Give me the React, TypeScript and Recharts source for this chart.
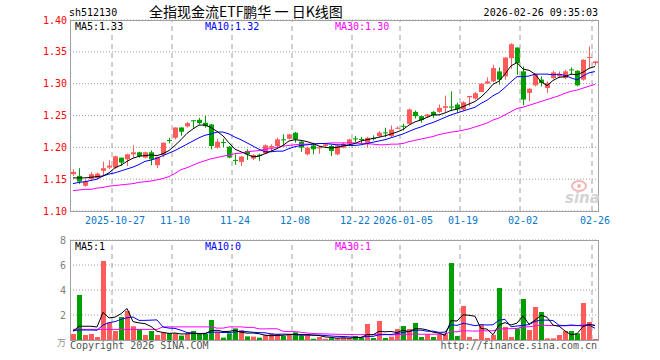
import React from "react";
import {
  ComposedChart,
  Bar,
  Line,
  XAxis,
  YAxis,
  CartesianGrid,
  ReferenceLine,
} from "recharts";

const MONO = '"DejaVu Sans Mono", monospace';
const RED = "#ff5b5b";
const GREEN = "#009f00";
const BLUE = "#0a78c8";
const GRID = "#a0a0a0";

const dates = [
  "10-16", "10-17", "10-20", "10-21", "10-22", "10-23", "10-24",
  "10-27", "10-28", "10-29", "10-30", "10-31",
  "11-03", "11-04", "11-05", "11-06", "11-07",
  "11-10", "11-11", "11-12", "11-13", "11-14",
  "11-17", "11-18", "11-19", "11-20", "11-21",
  "11-24", "11-25", "11-26", "11-27", "11-28",
  "12-01", "12-02", "12-03", "12-04", "12-05",
  "12-08", "12-09", "12-10", "12-11", "12-12",
  "12-15", "12-16", "12-17", "12-18", "12-19",
  "12-22", "12-23", "12-24", "12-25", "12-26",
  "12-29", "12-30", "12-31",
  "01-05", "01-06", "01-07", "01-08", "01-09",
  "01-12", "01-13", "01-14", "01-15", "01-16",
  "01-19", "01-20", "01-21", "01-22", "01-23",
  "01-26", "01-27", "01-28", "01-29", "01-30",
  "02-02", "02-03", "02-04", "02-05", "02-06",
  "02-09", "02-10", "02-11", "02-12", "02-13",
  "02-24", "02-25", "02-26",
];

const tickDates = ["10-27", "11-10", "11-24", "12-08", "12-22", "01-05", "01-19", "02-02", "02-26"];
const tickLabels = ["2025-10-27", "11-10", "11-24", "12-08", "12-22", "2026-01-05", "01-19", "02-02", "02-26"];
const priceTicks = [1.1, 1.15, 1.2, 1.25, 1.3, 1.35, 1.4];
const volTicks = [0, 2, 4, 6, 8];

const opens = [
  1.1578, 1.1552, 1.1396, 1.15, 1.1516, 1.163, 1.1682, 1.1682, 1.1838, 1.1812,
  1.189, 1.1922, 1.1838, 1.1922, 1.1719, 1.188, 1.2115, 1.215, 1.2312, 1.2328,
  1.2425, 1.2432, 1.2385, 1.2359, 1.1995, 1.2083, 1.201, 1.1802, 1.1771, 1.1943,
  1.1823, 1.1885, 1.1905, 1.1995, 1.2021, 1.2125, 1.2135, 1.2229, 1.2089, 1.189,
  1.203, 1.1984, 1.2021, 1.2021, 1.189, 1.1995, 1.2057, 1.214, 1.213, 1.2047,
  1.2145, 1.2177, 1.2235, 1.2177, 1.2297, 1.2338, 1.237, 1.2557, 1.249, 1.2484,
  1.2557, 1.2557, 1.262, 1.2641, 1.2672, 1.2594, 1.2786, 1.2766, 1.287, 1.3,
  1.3036, 1.3193, 1.3115, 1.3401, 1.3568, 1.3193, 1.2854, 1.2974, 1.3063, 1.2932,
  1.3089, 1.3115, 1.3089, 1.3224, 1.3203, 1.3063, 1.3405, 1.3323,
];
const highs = [
  1.1656, 1.1672, 1.15, 1.1609, 1.1604, 1.1776, 1.1797, 1.187, 1.1838, 1.19,
  1.2031, 1.1932, 1.1932, 1.1953, 1.185, 1.2073, 1.2151, 1.2312, 1.2312, 1.2396,
  1.2425, 1.2464, 1.2495, 1.237, 1.2135, 1.2135, 1.202, 1.189, 1.1865, 1.1969,
  1.189, 1.19, 1.2047, 1.2047, 1.215, 1.2203, 1.2213, 1.224, 1.211, 1.201,
  1.2073, 1.202, 1.2057, 1.2036, 1.2047, 1.2073, 1.2135, 1.218, 1.2165, 1.2166,
  1.2187, 1.2255, 1.2307, 1.2344, 1.2328, 1.237, 1.261, 1.2578, 1.25, 1.2526,
  1.2568, 1.2672, 1.2812, 1.288, 1.27, 1.2724, 1.2807, 1.2869, 1.301, 1.31,
  1.3297, 1.3255, 1.3411, 1.3635, 1.3568, 1.327, 1.293, 1.3156, 1.3115, 1.3036,
  1.3203, 1.3193, 1.3219, 1.3255, 1.3213, 1.3385, 1.3583, 1.3349,
];
const lows = [
  1.1552, 1.1422, 1.138, 1.1484, 1.15, 1.1552, 1.1656, 1.166, 1.1708, 1.1708,
  1.1838, 1.1838, 1.1828, 1.1719, 1.1672, 1.1849, 1.2063, 1.2125, 1.2182, 1.2312,
  1.2307, 1.236, 1.2308, 1.1969, 1.198, 1.2005, 1.1828, 1.1724, 1.1708, 1.1802,
  1.18, 1.1787, 1.1895, 1.1943, 1.2005, 1.2021, 1.2125, 1.2073, 1.1927, 1.1875,
  1.189, 1.19, 1.1995, 1.1865, 1.1875, 1.1985, 1.2036, 1.2083, 1.2063, 1.2,
  1.2109, 1.2161, 1.216, 1.2161, 1.2286, 1.2266, 1.236, 1.2453, 1.2385, 1.2464,
  1.2464, 1.2542, 1.2542, 1.2568, 1.2542, 1.2568, 1.2646, 1.275, 1.287, 1.2995,
  1.3026, 1.2984, 1.3063, 1.3234, 1.314, 1.2661, 1.2724, 1.2958, 1.2958, 1.2854,
  1.3073, 1.3089, 1.3073, 1.314, 1.2958, 1.3047, 1.3245, 1.3286,
];
const closes = [
  1.1615, 1.1463, 1.1463, 1.1578, 1.1588, 1.1672, 1.1713, 1.1859, 1.176, 1.189,
  1.1922, 1.1865, 1.1922, 1.1812, 1.1849, 1.2073, 1.211, 1.2312, 1.2245, 1.238,
  1.2422, 1.238, 1.2333, 1.2021, 1.2088, 1.2078, 1.1839, 1.1797, 1.1854, 1.189,
  1.188, 1.1865, 1.2031, 1.2021, 1.2125, 1.212, 1.2203, 1.2125, 1.1995, 1.1995,
  1.1969, 1.2005, 1.2047, 1.1943, 1.2031, 1.2057, 1.2125, 1.2135, 1.2125, 1.215,
  1.214, 1.223, 1.223, 1.228, 1.2307, 1.2333, 1.2594, 1.249, 1.2427, 1.2516,
  1.2505, 1.262, 1.2646, 1.2635, 1.2594, 1.2708, 1.2807, 1.2849, 1.3, 1.3036,
  1.3245, 1.3063, 1.3411, 1.362, 1.3323, 1.275, 1.292, 1.3151, 1.301, 1.301,
  1.3177, 1.3151, 1.3193, 1.3219, 1.2974, 1.3375, 1.342, 1.3349,
];

const ma5 = [
  1.152, 1.152, 1.152, 1.153, 1.154, 1.155, 1.16, 1.168, 1.172, 1.178,
  1.183, 1.186, 1.187, 1.188, 1.187, 1.19, 1.195, 1.203, 1.212, 1.222,
  1.229, 1.235, 1.235, 1.231, 1.225, 1.218, 1.207, 1.197, 1.193, 1.189,
  1.185, 1.186, 1.19, 1.194, 1.198, 1.203, 1.21, 1.212, 1.211, 1.209,
  1.206, 1.202, 1.2, 1.199, 1.2, 1.202, 1.204, 1.206, 1.21, 1.212,
  1.214, 1.216, 1.218, 1.221, 1.224, 1.228, 1.235, 1.24, 1.243, 1.247,
  1.251, 1.251, 1.254, 1.258, 1.26, 1.264, 1.268, 1.272, 1.279, 1.288,
  1.299, 1.304, 1.315, 1.328, 1.333, 1.323, 1.321, 1.315, 1.303, 1.297,
  1.305, 1.31, 1.311, 1.315, 1.314, 1.318, 1.324, 1.327,
];
const ma10 = [
  1.143, 1.145, 1.146, 1.148, 1.15, 1.155, 1.158, 1.16, 1.163, 1.166,
  1.169, 1.173, 1.178, 1.18, 1.183, 1.187, 1.191, 1.195, 1.2, 1.205,
  1.21, 1.215, 1.219, 1.221, 1.224, 1.224, 1.221, 1.216, 1.212, 1.207,
  1.202, 1.197, 1.193, 1.193, 1.194, 1.194, 1.198, 1.201, 1.203, 1.204,
  1.205, 1.206, 1.206, 1.205, 1.204, 1.204, 1.203, 1.203, 1.204, 1.206,
  1.208, 1.21, 1.212, 1.215, 1.218, 1.221, 1.225, 1.229, 1.232, 1.236,
  1.239, 1.243, 1.247, 1.251, 1.254, 1.257, 1.26, 1.263, 1.269, 1.274,
  1.281, 1.286, 1.294, 1.303, 1.311, 1.311, 1.312, 1.315, 1.315, 1.315,
  1.314, 1.315, 1.313, 1.309, 1.306, 1.312, 1.317, 1.319,
];
const ma30 = [
  1.132, 1.133, 1.134, 1.134, 1.136, 1.137, 1.139, 1.14, 1.141, 1.142,
  1.143, 1.145, 1.146, 1.147, 1.149, 1.151, 1.154, 1.159, 1.165, 1.168,
  1.172, 1.176, 1.179, 1.182, 1.184, 1.186, 1.188, 1.19, 1.191, 1.193,
  1.194, 1.195, 1.197, 1.198, 1.2, 1.202, 1.203, 1.204, 1.205, 1.205,
  1.205, 1.206, 1.206, 1.207, 1.207, 1.207, 1.207, 1.207, 1.206, 1.206,
  1.205, 1.204, 1.204, 1.205, 1.205, 1.206, 1.209, 1.211, 1.213, 1.215,
  1.217, 1.22, 1.222, 1.224, 1.225, 1.227, 1.229, 1.232, 1.235, 1.238,
  1.243, 1.246, 1.251, 1.256, 1.261, 1.263, 1.266, 1.269, 1.272, 1.275,
  1.278, 1.281, 1.285, 1.288, 1.29, 1.293, 1.296, 1.299,
];

const volumes = [
  0.48, 3.6, 0.4, 0.48, 0.24, 6.32, 1.39, 0.72, 1.84, 2.32,
  1.1, 0.88, 0.4, 0.72, 0.4, 0.6, 0.53, 0.53, 0.35, 0.48,
  0.72, 0.48, 0.48, 1.6, 0.64, 0.19, 0.53, 0.93, 0.8, 0.29,
  0.27, 0.19, 0.4, 0.53, 0.48, 0.32, 0.4, 0.61, 0.35, 0.48,
  0.1, 0.24, 0.1, 0.15, 0.15, 0.19, 0.15, 0.32, 0.19, 1.28,
  0.16, 1.52, 0.16, 0.27, 0.88, 1.12, 0.88, 1.36, 0.24, 0.45,
  0.24, 0.45, 0.45, 6.16, 0.32, 2.72, 0.24, 0.08, 1.2, 0.16,
  0.4, 4.16, 1.04, 0.24, 0.93, 3.28, 0.8, 2.64, 2.24, 0.13,
  0.13, 0.4, 0.72, 0.72, 0.53, 2.96, 1.44, 0.08,
];
const vma5 = [
  0.7, 1.1, 1.1, 1.1, 1.04, 2.21, 1.77, 1.83, 2.1, 2.52,
  1.47, 1.37, 1.31, 1.08, 0.7, 0.6, 0.53, 0.56, 0.48, 0.5,
  0.52, 0.51, 0.5, 0.75, 0.78, 0.68, 0.69, 0.78, 0.62, 0.55,
  0.56, 0.5, 0.39, 0.34, 0.37, 0.38, 0.43, 0.47, 0.43, 0.43,
  0.39, 0.36, 0.25, 0.21, 0.15, 0.17, 0.15, 0.19, 0.2, 0.43,
  0.42, 0.69, 0.66, 0.68, 0.6, 0.79, 0.66, 0.9, 0.9, 0.81,
  0.63, 0.55, 0.37, 1.55, 1.52, 2.02, 1.98, 1.9, 0.91, 0.88,
  0.42, 1.2, 1.39, 1.2, 1.35, 1.93, 1.26, 1.58, 1.98, 1.82,
  1.19, 1.11, 0.72, 0.42, 0.5, 1.07, 1.27, 1.15,
];
const vma10 = [
  0.75, 0.8, 0.8, 0.8, 0.78, 1.2, 1.39, 1.47, 1.65, 1.78,
  1.84, 1.57, 1.57, 1.59, 1.61, 1.04, 0.95, 0.93, 0.78, 0.6,
  0.56, 0.52, 0.53, 0.62, 0.64, 0.6, 0.6, 0.64, 0.69, 0.67,
  0.62, 0.59, 0.58, 0.48, 0.46, 0.47, 0.46, 0.43, 0.38, 0.4,
  0.39, 0.39, 0.36, 0.32, 0.29, 0.28, 0.25, 0.22, 0.21, 0.29,
  0.29, 0.42, 0.43, 0.44, 0.51, 0.61, 0.68, 0.78, 0.79, 0.7,
  0.71, 0.61, 0.63, 1.22, 1.17, 1.33, 1.26, 1.14, 1.23, 1.2,
  1.22, 1.59, 1.65, 1.06, 1.12, 1.17, 1.23, 1.49, 1.59, 1.59,
  1.56, 1.18, 1.15, 1.2, 1.16, 1.13, 1.19, 0.94,
];
const vma30 = [
  0.85, 0.85, 0.85, 0.85, 0.85, 0.85, 0.85, 0.85, 0.85, 0.85,
  0.85, 0.85, 0.85, 0.85, 0.85, 1.05, 1.05, 1.05, 1.05, 1.05,
  1.05, 1.05, 1.05, 1.05, 0.95, 0.95, 1.05, 1.05, 1.05, 1.01,
  1.01, 0.89, 0.89, 0.9, 0.9, 0.7, 0.67, 0.67, 0.62, 0.56,
  0.52, 0.5, 0.49, 0.47, 0.46, 0.45, 0.44, 0.43, 0.43, 0.45,
  0.43, 0.47, 0.46, 0.41, 0.42, 0.45, 0.46, 0.48, 0.46, 0.46,
  0.46, 0.47, 0.47, 0.66, 0.66, 0.74, 0.73, 0.71, 0.74, 0.73,
  0.74, 0.87, 0.9, 0.91, 0.93, 1.04, 1.06, 1.13, 1.2, 1.16,
  1.16, 1.13, 1.14, 1.16, 1.15, 1.21, 1.23, 1.19,
];

const priceData = dates.map((date, i) => ({
  date,
  open: opens[i],
  high: highs[i],
  low: lows[i],
  close: closes[i],
  range: [lows[i], highs[i]],
  ma5: ma5[i],
  ma10: ma10[i],
  ma30: ma30[i],
}));

const volData = dates.map((date, i) => ({
  date,
  vol: volumes[i],
  up: closes[i] >= opens[i],
  vma5: vma5[i],
  vma10: vma10[i],
  vma30: vma30[i],
}));

const Candle = (props: any) => {
  const { x, y, width, height, payload } = props;
  if (!payload || x == null) return null;
  const { open, close, high, low } = payload;
  const color = close >= open ? RED : GREEN;
  const top = Math.min(y, y + height);
  const h = Math.abs(height);
  const span = high - low;
  const py = (v: number) => (span > 0 ? top + ((high - v) / span) * h : top);
  const bx = Math.floor(x);
  const bw = Math.round(width);
  const cx = bx + Math.floor(bw / 2) + 0.5;
  const bTop = py(Math.max(open, close));
  const bBot = py(Math.min(open, close));
  return (
    <g>
      <line x1={cx} x2={cx} y1={top} y2={top + h} stroke={color} strokeWidth={1} />
      <rect x={bx} y={bTop} width={bw} height={Math.max(1, bBot - bTop)} fill={color} />
    </g>
  );
};

const VolBar = (props: any) => {
  const { x, y, width, height, payload } = props;
  if (!payload || x == null) return null;
  return (
    <rect
      x={Math.floor(x)}
      y={y}
      width={Math.round(width)}
      height={Math.max(0, height)}
      fill={payload.up ? RED : GREEN}
    />
  );
};

const Label = ({ left, cy, color, children, right }: any) => (
  <div
    style={{
      position: "absolute",
      left,
      right,
      top: cy - 6,
      height: 12,
      lineHeight: "12px",
      fontSize: 10,
      fontFamily: MONO,
      color,
      whiteSpace: "nowrap",
    }}
  >
    {children}
  </div>
);

const Frame = ({ left, top, width, height }: any) => (
  <div
    style={{
      position: "absolute",
      left,
      top,
      width: width + 1,
      height: height + 1,
      boxSizing: "border-box",
      border: `1px solid ${GRID}`,
      pointerEvents: "none",
    }}
  />
);

export default function App() {
  return (
    <div
      style={{
        position: "absolute",
        left: 0,
        top: 0,
        width: 660,
        height: 360,
        background: "#fff",
        overflow: "hidden",
      }}
    >
      <Label left={69} cy={13} color="#000">sh512130</Label>
      <div
        style={{
          position: "absolute",
          left: 149,
          top: 4,
          height: 15,
          lineHeight: "15px",
          fontSize: 14,
          fontFamily: '"Noto Sans CJK SC", sans-serif',
          color: "#000",
          whiteSpace: "pre",
        }}
      >
        全指现金流ETF鹏华 一 日K线图
      </div>
      <Label right={62} cy={13} color="#000">2026-02-26 09:35:03</Label>

      <div style={{ position: "absolute", left: 0, top: 0 }}>
        <ComposedChart
          width={660}
          height={230}
          data={priceData}
          margin={{ top: 20, right: 62, left: 0, bottom: 0 }}
        >
          <CartesianGrid vertical={false} stroke={GRID} strokeDasharray="1 2" />
          <XAxis
            dataKey="date"
            ticks={tickDates}
            interval={0}
            tickFormatter={(v: string) => tickLabels[tickDates.indexOf(v)] ?? v}
            tickLine={false}
            axisLine={false}
            tickSize={0}
            tickMargin={6}
            height={19}
            tick={{ fill: BLUE, fontSize: 10, fontFamily: MONO }}
          />
          <YAxis
            domain={[1.1, 1.4]}
            ticks={priceTicks}
            allowDataOverflow
            tickFormatter={(v: number) => v.toFixed(2)}
            width={70}
            tickLine={false}
            axisLine={false}
            tickSize={0}
            tickMargin={3}
            tick={{ fill: "#ff0000", fontSize: 10, fontFamily: MONO }}
          />
          {tickDates.map((d) => (
            <ReferenceLine key={d} x={d} position="start" stroke={GRID} strokeDasharray="5 4" />
          ))}
          <Bar dataKey="range" barSize={5} shape={(p: any) => <Candle {...p} />} isAnimationActive={false} />
          <Line type="linear" dataKey="ma30" stroke="#ff00ff" strokeWidth={1} dot={false} isAnimationActive={false} />
          <Line type="linear" dataKey="ma10" stroke="#0000ff" strokeWidth={1} dot={false} isAnimationActive={false} />
          <Line type="linear" dataKey="ma5" stroke="#000000" strokeWidth={1} dot={false} isAnimationActive={false} />
        </ComposedChart>
      </div>
      <Frame left={70} top={20} width={528} height={191} />
      <Label left={75} cy={26.5} color="#000">MA5:1.33</Label>
      <Label left={205} cy={26.5} color="#0000ff">MA10:1.32</Label>
      <Label left={335} cy={26.5} color="#ff00ff">MA30:1.30</Label>

      <svg style={{ position: "absolute", left: 566, top: 178 }} width={30} height={14}>
        <ellipse cx={13} cy={8} rx={7} ry={5} fill="none" stroke="#f2b4b4" strokeWidth={2} />
        <circle cx={13} cy={8} r={2} fill="#f2b4b4" />
      </svg>
      <div
        style={{
          position: "absolute",
          left: 565,
          top: 190,
          height: 16,
          fontFamily: '"DejaVu Sans", sans-serif',
          fontStyle: "italic",
          fontWeight: 700,
          fontSize: 15,
          lineHeight: "16px",
          color: "#d4d4d4",
        }}
      >
        sina
      </div>

      <div style={{ position: "absolute", left: 0, top: 230 }}>
        <ComposedChart
          width={660}
          height={130}
          data={volData}
          margin={{ top: 10, right: 62, left: 0, bottom: 20 }}
        >
          <CartesianGrid vertical={false} stroke={GRID} strokeDasharray="1 2" />
          <XAxis dataKey="date" hide />
          <YAxis
            domain={[0, 8]}
            ticks={volTicks}
            tickFormatter={(v: number) => (v === 0 ? "" : String(v))}
            width={70}
            tickLine={false}
            axisLine={false}
            tickSize={0}
            tickMargin={4}
            tick={{ fill: "#808080", fontSize: 10, fontFamily: MONO }}
          />
          {tickDates.map((d) => (
            <ReferenceLine key={d} x={d} position="start" stroke={GRID} strokeDasharray="5 4" />
          ))}
          <Bar dataKey="vol" barSize={5} shape={(p: any) => <VolBar {...p} />} isAnimationActive={false} />
          <Line type="linear" dataKey="vma30" stroke="#ff00ff" strokeWidth={1} dot={false} isAnimationActive={false} />
          <Line type="linear" dataKey="vma10" stroke="#0000ff" strokeWidth={1} dot={false} isAnimationActive={false} />
          <Line type="linear" dataKey="vma5" stroke="#000000" strokeWidth={1} dot={false} isAnimationActive={false} />
        </ComposedChart>
      </div>
      <Frame left={70} top={240} width={528} height={100} />
      <Label left={75} cy={247} color="#000">MA5:1</Label>
      <Label left={205} cy={247} color="#0000ff">MA10:0</Label>
      <Label left={335} cy={247} color="#ff00ff">MA30:1</Label>
      <div
        style={{
          position: "absolute",
          left: 57,
          top: 337,
          fontSize: 9,
          lineHeight: "12px",
          fontFamily: '"Noto Sans CJK SC", sans-serif',
          color: "#909090",
        }}
      >
        万
      </div>
      <Label left={70} cy={346} color="#555">Copyright 2026 SINA.COM</Label>
      <Label right={63} cy={346} color="#555">http://finance.sina.com.cn</Label>
    </div>
  );
}
